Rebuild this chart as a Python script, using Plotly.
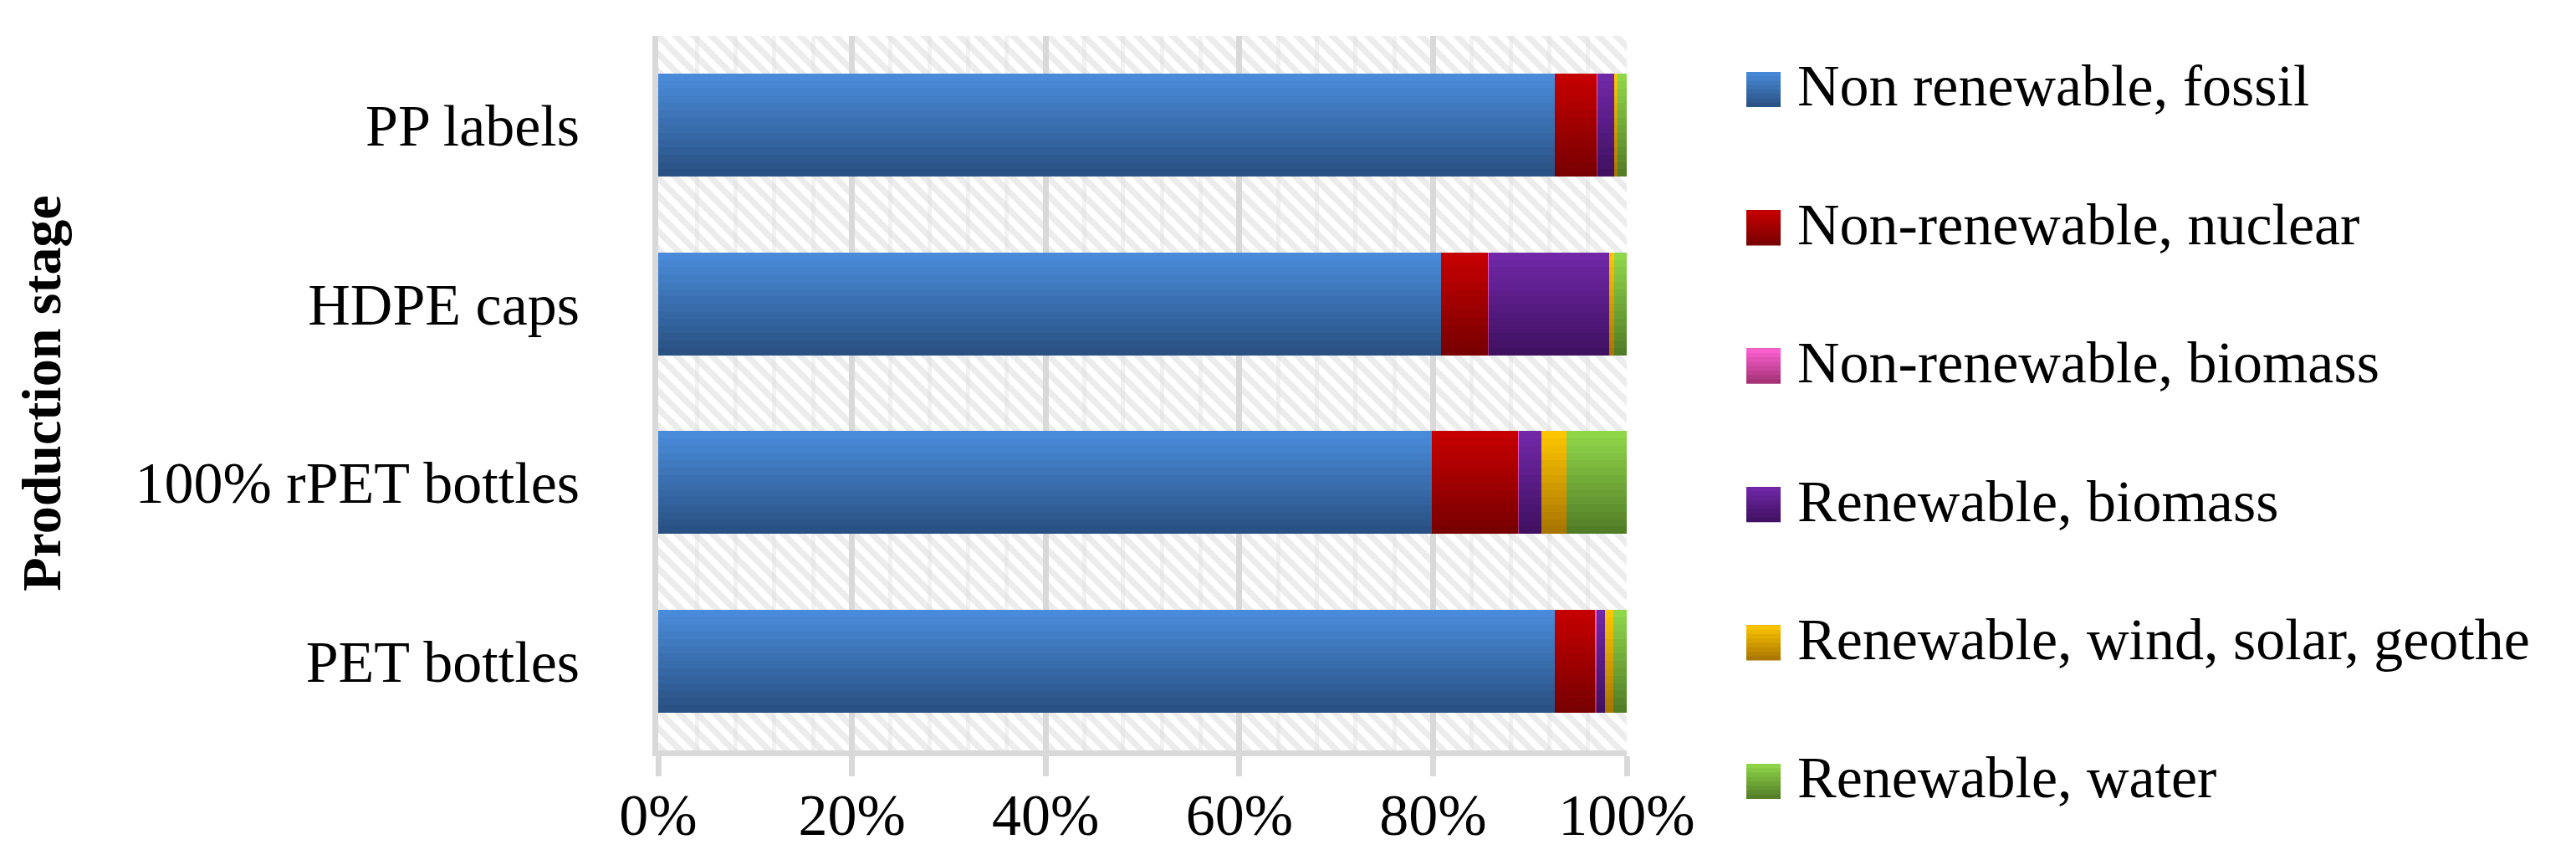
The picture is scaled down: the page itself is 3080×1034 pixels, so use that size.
import plotly.graph_objects as go

# production stages, bottom to top as drawn
stages = ["PET bottles", "100% rPET bottles", "HDPE caps", "PP labels"]

# share of each energy source per stage (%)
fossil = [92.6, 79.9, 80.8, 92.6]
nuclear = [4.2, 8.9, 4.9, 4.35]
nr_biomass = [0.1, 0.05, 0.05, 0.05]
r_biomass = [0.85, 2.3, 12.45, 1.7]
wind_solar = [0.85, 2.6, 0.5, 0.35]
water = [1.4, 6.25, 1.3, 0.95]

series_names = [
    "Non renewable, fossil",
    "Non-renewable, nuclear",
    "Non-renewable, biomass",
    "Renewable, biomass",
    "Renewable, wind, solar, geothe",
    "Renewable, water",
]
series_values = [fossil, nuclear, nr_biomass, r_biomass, wind_solar, water]

x_ticks = [0, 20, 40, 60, 80, 100]
x_ticktext = ["0%", "20%", "40%", "60%", "80%", "100%"]

# gradient end colours (top of bar, bottom of bar)
colors_top = ["#4a8ddc", "#c80000", "#ff62d4", "#7229aa", "#ffc800", "#92d94a"]
colors_bottom = ["#284f80", "#760000", "#a02f70", "#3e0f5e", "#a67300", "#507a26"]

W, H = 3080, 1034
L, R, T, B = 779, 1143, 35, 145
PW = W - L - R
PH = H - T - B


def px_x(p):
    return (p - L) / PW


def px_y(p):
    return (H - B - p) / PH


def mix(c1, c2, t):
    a = [int(c1[i:i + 2], 16) for i in (1, 3, 5)]
    b = [int(c2[i:i + 2], 16) for i in (1, 3, 5)]
    return "rgb(%d,%d,%d)" % tuple(round(a[j] + (b[j] - a[j]) * t) for j in range(3))


fig = go.Figure()

# hatched plot background
fig.add_trace(
    go.Bar(
        x=[x_ticks[-1]], y=[0.5], base=[0], width=[1], orientation="h",
        marker=dict(
            color="rgba(0,0,0,0)",
            line=dict(width=0),
            pattern=dict(shape="\\", fgcolor="#d9d9d9", bgcolor="rgba(0,0,0,0)",
                         size=15, solidity=0.5),
        ),
        xaxis="x", yaxis="y", showlegend=False, hoverinfo="skip",
    )
)

# stacked bars; each one is layered from the bottom up so the
# overlapping strips give the vertical gradient without seams
K = 14
BW = 0.576
bases = [0.0] * len(stages)
for name, vals, ct, cb in zip(series_names, series_values, colors_top, colors_bottom):
    for k in range(K):
        t = (k + 0.5) / K
        fig.add_trace(
            go.Bar(
                y=stages, x=vals, base=list(bases), orientation="h",
                width=BW * (K - k) / K,
                offset=-BW / 2 + k * BW / K,
                marker=dict(color=mix(cb, ct, t), line=dict(width=0)),
                name=name, xaxis="x", yaxis="y2",
                showlegend=False, hoverinfo="skip",
            )
        )
    bases = [b + v for b, v in zip(bases, vals)]

# legend drawn by hand so the swatches can be large
shapes = []
annotations = []
for i, (name, ct, cb) in enumerate(zip(series_names, colors_top, colors_bottom)):
    cy = 95 + i * 165.4
    top, bot = cy - 17, cy + 25
    n = 8
    for k in range(n):
        y0 = bot - (bot - top) * k / n
        shapes.append(dict(
            type="rect", xref="paper", yref="paper",
            x0=px_x(2080), x1=px_x(2121), y0=px_y(y0), y1=px_y(top),
            fillcolor=mix(cb, ct, (k + 0.5) / n), line=dict(width=0), layer="above",
        ))
    annotations.append(dict(
        text=name, xref="paper", yref="paper", x=px_x(2139), y=px_y(cy),
        xanchor="left", yanchor="middle", showarrow=False,
        font=dict(size=70, color="black"),
    ))

fig.update_layout(
    width=W, height=H,
    margin=dict(l=L, r=R, t=T, b=B, autoexpand=False),
    paper_bgcolor="white", plot_bgcolor="white",
    barmode="overlay", bargap=0,
    font=dict(family="Liberation Serif", size=70, color="black"),
    showlegend=False,
    shapes=shapes,
    annotations=annotations,
    xaxis=dict(
        range=[0, 100], tickmode="array", tickvals=x_ticks, ticktext=x_ticktext,
        showgrid=True, gridcolor="#d9d9d9", gridwidth=7,
        minor=dict(tickmode="linear", tick0=0, dtick=4, showgrid=True,
                   gridcolor="#f2f2f2", gridwidth=5, ticks=""),
        showline=True, linecolor="#d9d9d9", linewidth=7,
        ticks="outside", ticklen=24, tickwidth=7, tickcolor="#d9d9d9",
        zeroline=False, ticklabelstandoff=-14, fixedrange=True,
    ),
    yaxis=dict(range=[0, 1], visible=False, fixedrange=True),
    yaxis2=dict(
        overlaying="y", side="left", type="category",
        categoryorder="array", categoryarray=stages, range=[-0.5, 3.5],
        showgrid=False, zeroline=False,
        showline=True, linecolor="#d9d9d9", linewidth=7,
        ticks="", ticklabelstandoff=73, fixedrange=True,
        title=dict(text="Production stage", standoff=70,
                   font=dict(size=66, weight="bold")),
    ),
)

fig.write_html("out.html")
